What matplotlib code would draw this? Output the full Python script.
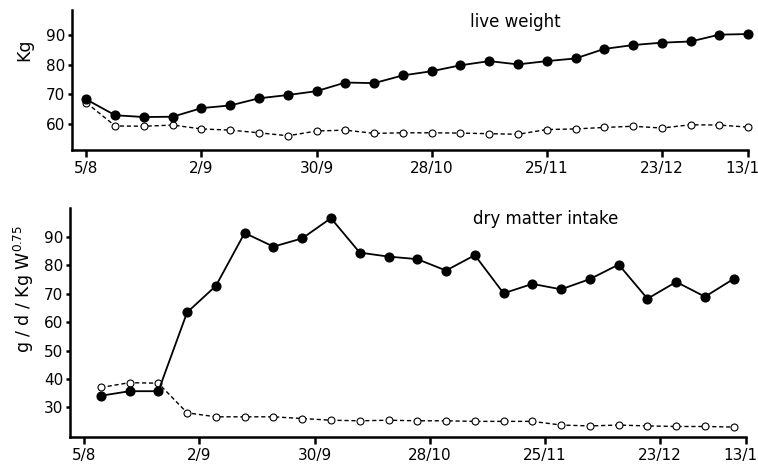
import matplotlib
matplotlib.use("Agg")
import matplotlib.pyplot as plt
import matplotlib.transforms as mtransforms
import numpy as np

plt.rcParams['font.family'] = ['DejaVu Sans']

# days since 5/8
tick_days = [0, 28, 56, 84, 112, 140, 161]
tick_labels = ['5/8', '2/9', '30/9', '28/10', '25/11', '23/12', '13/1']

# live weight, weekly from 5/8
lw_days = np.arange(0, 162, 7)
lw_filled = [68.3, 63.0, 62.4, 62.5, 65.4, 66.3, 68.7, 69.8, 71.1, 74.0, 73.8, 76.4,
             77.8, 79.8, 81.2, 80.1, 81.2, 82.1, 85.3, 86.6, 87.4, 87.8, 90.1, 90.3]
lw_open = [67.2, 59.4, 59.3, 59.7, 58.4, 58.0, 57.1, 56.1, 57.7, 58.0, 56.9, 57.1,
           57.1, 57.0, 56.8, 56.6, 58.2, 58.4, 58.9, 59.3, 58.7, 59.8, 59.7, 59.0]

# dry matter intake, weekly from 9/8
dm_days = np.arange(4, 159, 7)
dm_filled = [34.1, 35.7, 35.7, 63.4, 72.7, 91.3, 86.5, 89.4, 96.5, 84.4, 83.0, 82.1,
             78.1, 83.5, 70.1, 73.4, 71.5, 75.1, 80.2, 68.2, 74.1, 68.9, 75.2]
dm_open = [37.0, 38.7, 38.5, 28.1, 26.7, 26.7, 26.7, 26.1, 25.5, 25.3, 25.5, 25.3,
           25.3, 25.1, 25.1, 25.1, 23.8, 23.5, 23.8, 23.5, 23.3, 23.3, 23.1]

fig = plt.figure(figsize=(7.58, 4.66), dpi=100)
ax1 = fig.add_axes([0.095, 0.678, 0.892, 0.300])
ax2 = fig.add_axes([0.0923, 0.0622, 0.892, 0.491])


def style(ax, yticks, ylim):
    for s in ['top', 'right']:
        ax.spines[s].set_visible(False)
    for s in ['left', 'bottom']:
        ax.spines[s].set_linewidth(1.8)
    ax.set_xlim(-3.5, 161)
    ax.set_ylim(*ylim)
    ax.set_yticks(yticks)
    ax.set_xticks(tick_days)
    ax.set_xticklabels(tick_labels)
    ax.tick_params(axis='both', direction='out', width=1.8, labelsize=11, colors='black')
    ax.tick_params(axis='x', length=5, pad=3)
    ax.tick_params(axis='y', length=3, pad=2)
    # last label sits against the figure edge, nudge it left a little
    last = ax.get_xticklabels()[-1]
    last.set_transform(last.get_transform() +
                       mtransforms.ScaledTranslation(-6 / 100, 0, fig.dpi_scale_trans))


def series(ax, x, filled, opened):
    ax.plot(x, opened, color='black', lw=1.0, ls=(0, (3, 2)), marker='o', ms=5,
            mfc='white', mec='black', mew=0.8, clip_on=False, zorder=3)
    ax.plot(x, filled, color='black', lw=1.3, marker='o', ms=6.3,
            mfc='black', mec='black', clip_on=False, zorder=4)


series(ax1, lw_days, lw_filled, lw_open)
style(ax1, [60, 70, 80, 90], (51.3, 98.3))

series(ax2, dm_days, dm_filled, dm_open)
style(ax2, [30, 40, 50, 60, 70, 80, 90], (19.6, 100))

fig.text(0.620, 0.953, 'live weight', fontsize=12, va='center', ha='left')
fig.text(0.624, 0.530, 'dry matter intake', fontsize=12, va='center', ha='left')
fig.text(0.032, 0.893, 'Kg', fontsize=12.5, rotation=90, va='center', ha='center')
fig.text(0.032, 0.380, 'g / d / Kg W$^{0.75}$', fontsize=12.5, rotation=90,
         va='center', ha='center')

fig.savefig('out.png', dpi=100)
